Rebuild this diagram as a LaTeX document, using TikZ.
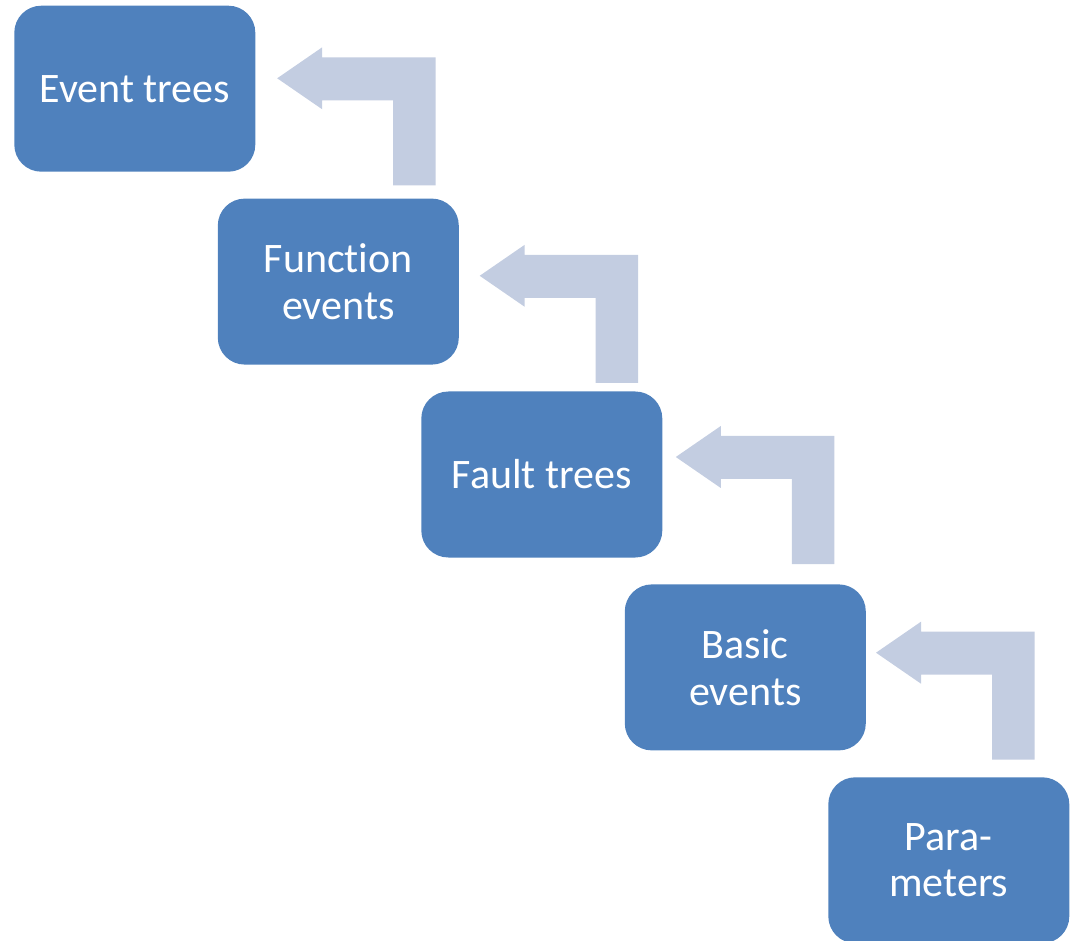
\documentclass[tikz,border=0pt]{standalone}
\usepackage{fontspec}
\setmainfont{Carlito}[Ligatures=NoCommon]
\usetikzlibrary{calc}

\definecolor{boxblue}{RGB}{79,129,189}
\definecolor{arrowgray}{RGB}{195,205,225}

% freccia piegata: punta in #1, gambo che scende verso il blocco sotto
\newcommand{\bendarrow}[1]{%
  \fill[arrowgray, shift={(#1)}] (0,0) -- (45,-31) -- (45,-21) -- (158.5,-21)
    -- (158.5,107) -- (116,107) -- (116,22) -- (45,22) -- (45,31) -- cycle;}

\begin{document}
\begin{tikzpicture}[x=1pt, y=-1pt,
    stepbox/.style={fill=boxblue, rounded corners=27pt, minimum width=241pt,
      minimum height=166pt, inner sep=0pt, align=center, text=white,
      font=\fontsize{42}{46.7}\selectfont}]

    \useasboundingbox (0,0) rectangle (1072,941);

    % --- BLOCCHI ---
    \node[stepbox] (et) at (134.8,88.7) {Event trees};
    \node[stepbox] (fe) at (338.3,281.6) {Function\\events};
    \node[stepbox] (ft) at (541.8,474.5) {Fault trees};
    \node[stepbox] (be) at (745.3,667.4) {Basic\\events};
    \node[stepbox] (pa) at (948.8,860.3) {Para-\\meters};

    % --- FRECCE (dal blocco sotto verso quello sopra) ---
    \coordinate (t1) at ($(et.east)+(21.7,-10.4)$);
    \coordinate (t2) at ($(fe.east)+(20.7,-5.8)$);
    \coordinate (t3) at ($(ft.east)+(13.3,-17.5)$);
    \coordinate (t4) at ($(be.east)+(10,-14.7)$);
    \bendarrow{t1}
    \bendarrow{t2}
    \bendarrow{t3}
    \bendarrow{t4}

\end{tikzpicture}
\end{document}
